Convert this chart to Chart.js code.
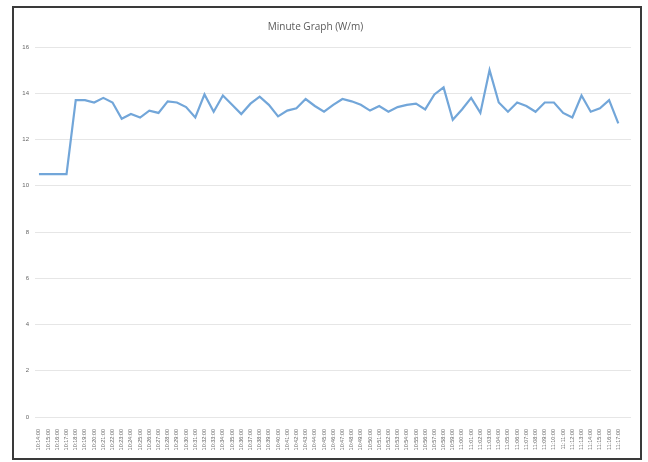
<!DOCTYPE html>
<html>
<head>
<meta charset="utf-8">
<script src="https://cdn.jsdelivr.net/npm/chart.js@4"></script>
<style>
  html, body { margin: 0; padding: 0; background: #fff; }
  #wrap { position: relative; width: 648px; height: 462px; }
  #frame {
    position: absolute; left: 12px; top: 6px; width: 626px; height: 450px;
    border: 2px solid #3a3a3a; pointer-events: none;
  }
</style>
</head>
<body>
<div id="wrap">
  <canvas id="chart" width="648" height="462"></canvas>
  <div id="frame"></div>
</div>
<script>
// ─── DATA ────────────────────────────────────────────────────
const times = [
  '10:14:00', '10:15:00', '10:16:00', '10:17:00', '10:18:00', '10:19:00', '10:20:00', '10:21:00',
  '10:22:00', '10:23:00', '10:24:00', '10:25:00', '10:26:00', '10:27:00', '10:28:00', '10:29:00',
  '10:30:00', '10:31:00', '10:32:00', '10:33:00', '10:34:00', '10:35:00', '10:36:00', '10:37:00',
  '10:38:00', '10:39:00', '10:40:00', '10:41:00', '10:42:00', '10:43:00', '10:44:00', '10:45:00',
  '10:46:00', '10:47:00', '10:48:00', '10:49:00', '10:50:00', '10:51:00', '10:52:00', '10:53:00',
  '10:54:00', '10:55:00', '10:56:00', '10:57:00', '10:58:00', '10:59:00', '11:00:00', '11:01:00',
  '11:02:00', '11:03:00', '11:04:00', '11:05:00', '11:06:00', '11:07:00', '11:08:00', '11:09:00',
  '11:10:00', '11:11:00', '11:12:00', '11:13:00', '11:14:00', '11:15:00', '11:16:00', '11:17:00'
];

const watts = [
  10.5, 10.5, 10.5, 10.5, 13.7, 13.7, 13.6, 13.8,
  13.6, 12.9, 13.1, 12.95, 13.25, 13.15, 13.65, 13.6,
  13.4, 12.95, 13.95, 13.2, 13.9, 13.5, 13.1, 13.55,
  13.85, 13.5, 13.0, 13.25, 13.35, 13.75, 13.45, 13.2,
  13.5, 13.75, 13.65, 13.5, 13.25, 13.45, 13.2, 13.4,
  13.5, 13.55, 13.3, 13.95, 14.25, 12.85, 13.3, 13.8,
  13.15, 15.0, 13.6, 13.2, 13.6, 13.45, 13.2, 13.6,
  13.6, 13.15, 12.95, 13.9, 13.2, 13.35, 13.7, 12.7
];

const yTicks = { min: 0, max: 16, step: 2 };

// ─── CHART ───────────────────────────────────────────────────
const ctx = document.getElementById('chart');

new Chart(ctx, {
  type: 'line',
  data: {
    datasets: [{
      label: 'W/m',
      data: watts.map((v, i) => ({ x: i, y: v })),
      borderColor: '#72a6d9',
      borderWidth: 2.2,
      pointRadius: 0,
      tension: 0,
      fill: false,
    }]
  },
  options: {
    responsive: false,
    animation: false,
    layout: { padding: { left: 0, right: 17, top: 0, bottom: 0 } },
    plugins: {
      legend: { display: false },
      tooltip: { enabled: false },
      title: {
        display: true,
        text: 'Minute Graph (W/m)',
        color: '#595959',
        font: { family: "'Open Sans', sans-serif", size: 10, weight: 'normal' },
        padding: { top: 21, bottom: 14 },
      },
    },
    scales: {
      x: {
        type: 'linear',
        min: -0.43,
        max: 64.38,
        grid: { display: false },
        border: { display: false },
        afterFit: s => { s.height = 45; },
        ticks: {
          stepSize: 1,
          includeBounds: false,
          autoSkip: false,
          maxRotation: 90,
          minRotation: 90,
          padding: 4,
          color: '#666666',
          font: { family: "'Liberation Sans', sans-serif", size: 5.5 },
          callback: v => (Number.isInteger(v) && times[v]) ? times[v] : '',
        },
      },
      y: {
        min: yTicks.min,
        max: yTicks.max,
        grid: { color: '#e6e6e6', lineWidth: 1, drawTicks: false },
        border: { display: false },
        afterFit: s => { s.width = 35; },
        ticks: {
          stepSize: yTicks.step,
          padding: 6,
          color: '#666666',
          font: { family: "'Liberation Sans', sans-serif", size: 6 },
        },
      },
    },
  },
});
</script>
</body>
</html>
